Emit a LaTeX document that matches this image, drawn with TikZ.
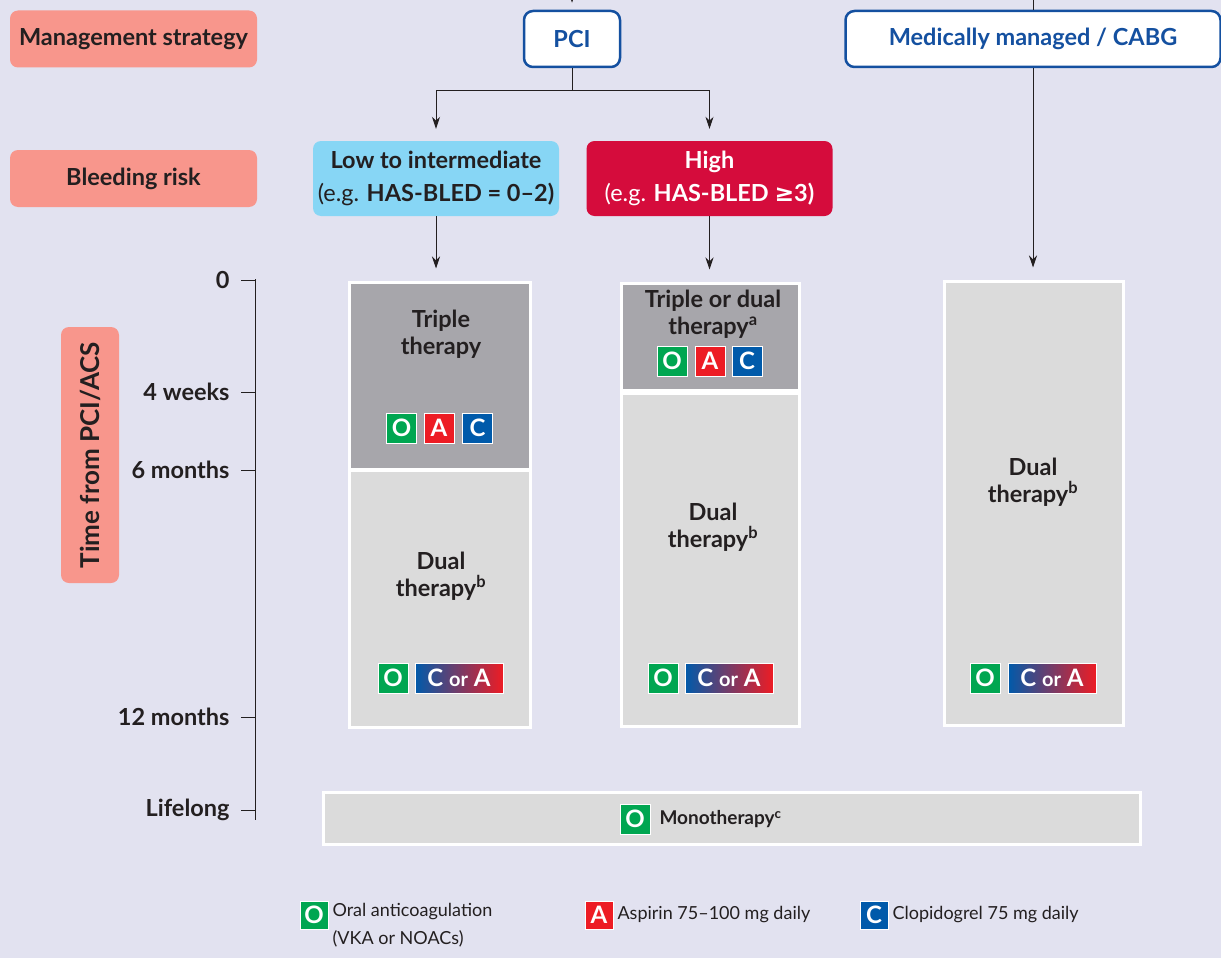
\documentclass[tikz,border=0pt]{standalone}
\usepackage{fontspec}
\setmainfont{Lato}
\newfontfamily\symfont{DejaVu Sans}
\usetikzlibrary{positioning}
\usetikzlibrary{calc}
\usetikzlibrary{arrows.meta}

\definecolor{bgcol}{RGB}{226,226,240}
\definecolor{salmon}{RGB}{248,150,140}
\definecolor{pciblue}{RGB}{20,80,160}
\definecolor{lowblue}{RGB}{135,214,245}
\definecolor{highred}{RGB}{213,12,60}
\definecolor{darkgrey}{RGB}{167,166,171}
\definecolor{lightgrey}{RGB}{219,219,219}
\definecolor{ogreen}{RGB}{0,166,81}
\definecolor{ared}{RGB}{237,28,36}
\definecolor{cblue}{RGB}{0,90,170}
\definecolor{textdark}{RGB}{35,31,32}

\newcommand{\bigfont}{\fontsize{23.5}{27}\selectfont\bfseries}

\tikzset{
  headbox/.style={fill=salmon, rounded corners=8pt, minimum width=247,
    minimum height=57, text=textdark, font=\bigfont},
  mgmt/.style={fill=white, draw=pciblue, line width=2.5pt, rounded corners=9pt,
    minimum height=56, text=pciblue, font=\bigfont},
  risk/.style={rounded corners=8pt, minimum width=246, minimum height=75,
    align=center, font=\fontsize{23.5}{33}\selectfont\bfseries},
  phasebox/.style={draw=white, line width=3pt, inner sep=0pt},
  phase/.style={align=center, text=textdark, font=\bigfont},
  icon/.style={fill=#1, draw=white, line width=0.8pt, text=white,
    minimum size=30, inner sep=0pt, font=\fontsize{24}{24}\selectfont\bfseries},
  mixicon/.style={left color=cblue, right color=ared, draw=white,
    line width=0.8pt, text=white, minimum width=88, minimum height=30,
    inner sep=0pt, font=\fontsize{24}{24}\selectfont\bfseries},
  flow/.style={-{Stealth[length=12pt,width=8pt]}, line width=0.9pt,
    draw=textdark, shorten >=12pt},
  timelabel/.style={anchor=east, text=textdark, font=\bigfont},
  legendtext/.style={anchor=west, align=left, text=textdark,
    font=\fontsize{18}{28}\selectfont}
}

\begin{document}
\begin{tikzpicture}[x=1pt,y=-1pt]
\path[use as bounding box, fill=bgcol] (0,0) rectangle (1221,958);
\clip (0,0) rectangle (1221,958);

% row labels
\node[headbox] (strategy) at (133.5,39) {Management strategy};
\node[headbox] (bleeding) at (133.5,178.5) {Bleeding risk};
\node[headbox, rotate=90, minimum width=256, minimum height=58,
  font=\fontsize{26}{28}\selectfont\bfseries]
  (timefrom) at (90,455) {Time from PCI/ACS};

% management strategy
\node[mgmt, minimum width=96] (pci) at (572,39) {PCI};
\node[mgmt, minimum width=375] (med) at (1033,39) {Medically managed / CABG};
\coordinate (pcitop) at (572,-40);
\coordinate (medtop) at (1033,-40);
\draw[flow, shorten >=7pt] (pcitop) -- (pci.north);
\draw[line width=0.9pt, textdark] (medtop) -- (med.north);

% bleeding risk
\node[risk, fill=lowblue, text=textdark] (lowrisk) at (436,178.5)
  {Low to intermediate\\{\mdseries (e.g.} HAS-BLED = 0--2)};
\node[risk, fill=highred, text=white] (highrisk) at (709.5,178.5)
  {High\\{\mdseries (e.g.} HAS-BLED {\symfont ≥}3)};

\coordinate (split) at (572,90);
\draw[line width=0.9pt, textdark] (pci.south) -- (split);
\draw[flow] (split) -| (lowrisk.north);
\draw[flow] (split) -| (highrisk.north);

% time axis
\draw[line width=0.9pt, textdark] (255,279) -- (255,820);
\foreach \y/\lab in {280/0, 392/4 weeks, 470/6 months, 717/12 months, 810/Lifelong}{
  \draw[line width=0.9pt, textdark] (241,\y) -- (255,\y);
  \node[timelabel] (t\y) at (233,\y) {\lab};
}

% low to intermediate risk
\node[phasebox, fill=darkgrey, minimum width=181, minimum height=187]
  (triple1) at (439.5,375.5) {};
\node[phasebox, fill=lightgrey, minimum width=181, minimum height=257]
  (dual1) at (439.5,598.5) {};
\node[phase] (triple1txt) at (441,334) {Triple\\therapy};
\node[icon=ogreen] (o1) at (401.5,428) {O};
\node[icon=ared] (a1) at (439,428) {A};
\node[icon=cblue] (c1) at (477.5,428) {C};
\node[phase] (dual1txt) at (441,576) {Dual\\therapy\textsuperscript{b}};
\node[icon=ogreen] (o2) at (393,678) {O};
\node[mixicon] (ca2) at (459,678) {C {\fontsize{20}{20}\selectfont or} A};

% high risk
\node[phasebox, fill=darkgrey, minimum width=178, minimum height=107]
  (triple2) at (710,336.5) {};
\node[phasebox, fill=lightgrey, minimum width=178, minimum height=333]
  (dual2) at (710,559.5) {};
\node[phase] (triple2txt) at (713,314) {Triple or dual\\therapy\textsuperscript{a}};
\node[icon=ogreen] (o3) at (672,361) {O};
\node[icon=ared] (a3) at (710,361) {A};
\node[icon=cblue] (c3) at (747,361) {C};
\node[phase] (dual2txt) at (713,527) {Dual\\therapy\textsuperscript{b}};
\node[icon=ogreen] (o4) at (663,678) {O};
\node[mixicon] (ca4) at (729,678) {C {\fontsize{20}{20}\selectfont or} A};

% medically managed
\node[phasebox, fill=lightgrey, minimum width=179, minimum height=444]
  (dual3) at (1033.5,503) {};
\node[phase] (dual3txt) at (1033,482) {Dual\\therapy\textsuperscript{b}};
\node[icon=ogreen] (o5) at (985,678) {O};
\node[mixicon] (ca5) at (1052,678) {C {\fontsize{20}{20}\selectfont or} A};

\draw[flow] (lowrisk.south) -- (lowrisk.south |- triple1.north);
\draw[flow] (highrisk.south) -- (highrisk.south |- triple2.north);
\draw[flow] (med.south) -- (med.south |- dual3.north);

% lifelong
\node[phasebox, fill=lightgrey, minimum width=817, minimum height=52]
  (mono) at (731.5,818) {};
\node[icon=ogreen] (o6) at (635,819) {O};
\node[phase, anchor=west] (monotxt) at (656,819)
  {\fontsize{19}{22}\selectfont Monotherapy\textsuperscript{c}};

% legend
\node[icon=ogreen, minimum size=28] (lego) at (314,915) {O};
\node[legendtext, anchor=north west] (legotxt) at (329,900)
  {Oral anticoagulation\\(VKA or NOACs)};
\node[icon=ared, minimum size=28] (lega) at (599,915) {A};
\node[legendtext] (legatxt) at (614,915) {Aspirin 75--100 mg daily};
\node[icon=cblue, minimum size=28] (legc) at (874,915) {C};
\node[legendtext] (legctxt) at (889,915) {Clopidogrel 75 mg daily};

\end{tikzpicture}
\end{document}
